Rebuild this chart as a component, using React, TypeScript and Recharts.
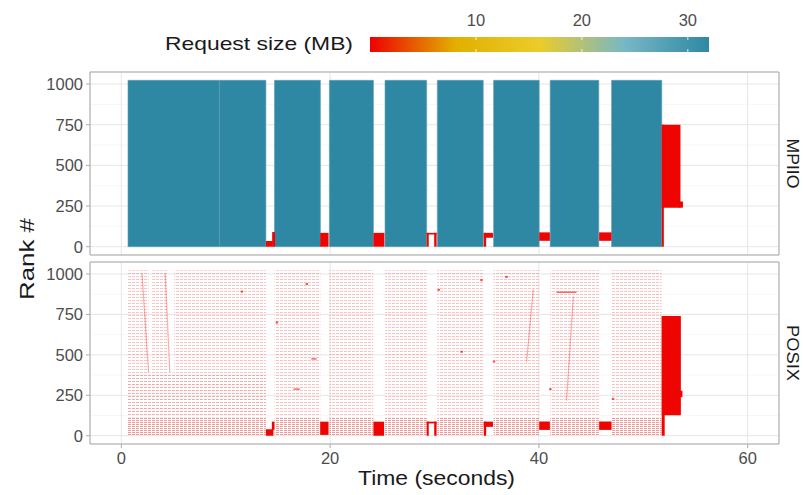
import React from 'react'
import {
  ComposedChart,
  XAxis,
  YAxis,
  CartesianGrid,
  ReferenceArea,
  ReferenceLine,
  Scatter,
} from 'recharts'

const FONT = '"Liberation Sans", Arial, Helvetica, sans-serif'

// axes
const xTicks = [0, 20, 40, 60]
const xMinorTicks = [10, 30, 50]
const yTicks = [0, 250, 500, 750, 1000]
const yMinorTicks = [125, 375, 625, 875]
const X_DOMAIN = [-3, 63]
const Y_DOMAIN = [-51.15, 1074.15]

// colour scale (request size, MB)
const sizeRange = [0, 32]
const legendTicks = [10, 20, 30]
const palette = ['#EE0000', '#E1AF00', '#EBCC2A', '#78B7C5', '#2F88A3']

// MPIIO collective writes, every rank 0..1023
const mpiioStart = [0.64, 9.4, 14.67, 19.93, 25.26, 30.27, 35.66, 41.08, 46.96]
const mpiioEnd = [9.4, 13.85, 19.07, 24.15, 29.25, 34.67, 40.03, 45.74, 51.77]
const mpiioSize = [32, 32, 32, 32, 32, 32, 32, 32, 32]

// small requests: [start s, end s, rank lo, rank hi, MB]
const mpiioSmall = [
  [13.85, 14.5, 0, 35, 0.2],
  [14.45, 14.72, 0, 90, 0.2],
  [19.05, 19.85, 0, 85, 0.2],
  [24.15, 25.2, 0, 85, 0.2],
  [29.25, 29.45, 0, 85, 0.2],
  [29.97, 30.2, 0, 85, 0.2],
  [29.25, 30.2, 75, 85, 0.2],
  [34.72, 35.6, 55, 85, 0.2],
  [34.72, 34.95, 0, 85, 0.2],
  [40.03, 41.05, 36, 88, 0.2],
  [45.77, 46.96, 36, 88, 0.2],
  [51.77, 53.56, 240, 750, 0.2],
  [51.77, 51.97, 0, 750, 0.2],
  [53.45, 53.8, 240, 278, 0.2],
]
const posixSmall = [
  [13.85, 14.57, 0, 40, 0.2],
  [14.42, 14.67, 36, 87, 0.2],
  [19.05, 19.85, 5, 87, 0.2],
  [24.15, 25.17, 0, 87, 0.2],
  [29.25, 29.45, 0, 87, 0.2],
  [29.97, 30.2, 0, 87, 0.2],
  [29.25, 30.2, 76, 87, 0.2],
  [34.72, 35.6, 55, 87, 0.2],
  [34.72, 34.95, 0, 87, 0.2],
  [40.03, 41.05, 36, 88, 0.2],
  [45.77, 46.96, 36, 88, 0.2],
  [51.77, 53.6, 127, 740, 0.2],
  [51.77, 52.05, 0, 740, 0.2],
  [53.45, 53.75, 238, 278, 0.2],
]

// POSIX independent writes: [start s, end s, rank lo, rank hi]
const posixSparse = [
  [0.64, 2.62, 390, 1023],
  [2.95, 4.45, 390, 1023],
  [5.05, 13.85, 390, 1023],
  [14.67, 19.07, 115, 1023],
  [19.93, 24.15, 115, 1023],
  [25.26, 29.25, 115, 1023],
  [30.27, 34.67, 115, 1023],
  [35.66, 40.03, 115, 1023],
  [41.08, 45.74, 115, 1023],
  [46.96, 51.77, 115, 1023],
]
const posixMid = [[0.64, 13.85, 115, 390]]
const posixDense = [
  [0.64, 13.85, 0, 115],
  [14.67, 19.07, 0, 115],
  [19.93, 24.15, 0, 115],
  [25.26, 29.25, 0, 115],
  [30.27, 34.67, 0, 115],
  [35.66, 40.03, 0, 115],
  [41.08, 45.74, 0, 115],
  [46.96, 51.77, 0, 115],
]
// slanted runs of requests: [t0, rank0, t1, rank1]
const posixStreaks = [
  [1.98, 1003, 2.61, 390],
  [4.2, 1003, 4.65, 390],
  [39.46, 905, 38.82, 457],
  [43.3, 861, 42.65, 217],
]
// longer single requests: [start s, end s, rank]
const posixLong = [
  [41.7, 43.6, 887],
  [18.2, 18.7, 475],
  [16.5, 17.1, 288],
]
const posixDots = [
  { t: 17.77, rank: 938 },
  { t: 14.9, rank: 700 },
  { t: 11.55, rank: 891 },
  { t: 32.6, rank: 519 },
  { t: 34.5, rank: 962 },
  { t: 30.4, rank: 902 },
  { t: 35.7, rank: 459 },
  { t: 41.1, rank: 288 },
  { t: 47.1, rank: 228 },
  { t: 36.9, rank: 982 },
]

const hexToRgb = (h: string) => [1, 3, 5].map((i) => parseInt(h.slice(i, i + 2), 16))

const sizeColor = (mb: number) => {
  const f =
    Math.min(1, Math.max(0, (mb - sizeRange[0]) / (sizeRange[1] - sizeRange[0]))) *
    (palette.length - 1)
  const i = Math.min(palette.length - 2, Math.floor(f))
  const k = f - i
  const a = hexToRgb(palette[i])
  const b = hexToRgb(palette[i + 1])
  return `rgb(${a.map((v, j) => Math.round(v + (b[j] - v) * k)).join(',')})`
}

const RED = sizeColor(0.2)
const legendX = (v: number) => 370 + ((v - sizeRange[0]) / (sizeRange[1] - sizeRange[0])) * 339

const tickStyle = { fill: '#4D4D4D', fontSize: 16.5, fontFamily: FONT }

const areas = (blocks: number[][], key: string, fill?: string) =>
  blocks.map(([t0, t1, r0, r1, mb], i) => (
    <ReferenceArea
      key={`${key}-${i}`}
      x1={t0}
      x2={t1}
      y1={r0}
      y2={r1}
      fill={fill || sizeColor(mb)}
      fillOpacity={1}
      stroke='none'
      ifOverflow='visible'
    />
  ))

const gridAndAxes = (showX: boolean) => [
  <XAxis key='xm' xAxisId='minor' type='number' domain={X_DOMAIN} ticks={xMinorTicks} hide allowDataOverflow />,
  <YAxis key='ym' yAxisId='minor' type='number' domain={Y_DOMAIN} ticks={yMinorTicks} hide allowDataOverflow />,
  <XAxis
    key='x'
    type='number'
    dataKey='t'
    domain={X_DOMAIN}
    ticks={xTicks}
    interval={0}
    hide={!showX}
    height={51}
    allowDataOverflow
    axisLine={false}
    tickSize={4}
    tickMargin={4}
    tickLine={{ stroke: '#ABABAB' }}
    tick={tickStyle}
  />,
  <YAxis
    key='y'
    type='number'
    dataKey='rank'
    domain={Y_DOMAIN}
    ticks={yTicks}
    interval={0}
    width={90}
    allowDataOverflow
    axisLine={false}
    tickSize={4}
    tickMargin={3}
    tickLine={{ stroke: '#ABABAB' }}
    tick={tickStyle}
  />,
  <CartesianGrid key='gm' xAxisId='minor' yAxisId='minor' stroke='#F3F3F3' strokeWidth={0.7} />,
  <CartesianGrid key='g' stroke='#E6E6E6' strokeWidth={1} />,
]

const border = (
  <ReferenceArea
    x1={X_DOMAIN[0]}
    x2={X_DOMAIN[1]}
    y1={Y_DOMAIN[0]}
    y2={Y_DOMAIN[1]}
    fill='none'
    stroke='#ABABAB'
    strokeWidth={1}
    ifOverflow='visible'
  />
)

export default function App() {
  return (
    <div style={{ position: 'absolute', left: 0, top: 0, width: 803, height: 495, background: '#fff' }}>
      <svg width={803} height={70} style={{ position: 'absolute', left: 0, top: 0 }}>
        <defs>
          <linearGradient id='sizeGrad' x1='0' x2='1' y1='0' y2='0'>
            {palette.map((c, i) => (
              <stop key={c} offset={i / (palette.length - 1)} stopColor={c} />
            ))}
          </linearGradient>
          <pattern id='posixSparse' width={4} height={3} patternUnits='userSpaceOnUse'>
            <rect x={0} y={0} width={3} height={1} fill={RED} fillOpacity={0.24} />
          </pattern>
          <pattern id='posixMid' width={4} height={3} patternUnits='userSpaceOnUse'>
            <rect x={0} y={0} width={3} height={1} fill={RED} fillOpacity={0.34} />
          </pattern>
          <pattern id='posixDense' width={4} height={2} patternUnits='userSpaceOnUse'>
            <rect x={0} y={0} width={3} height={1} fill={RED} fillOpacity={0.42} />
          </pattern>
        </defs>
        <text x={165} y={50} fontSize={19} fontFamily={FONT} fill='#1A1A1A' textLength={188} lengthAdjust='spacingAndGlyphs'>
          Request size (MB)
        </text>
        <rect x={370} y={37} width={339} height={15} fill='url(#sizeGrad)' />
        {legendTicks.map((v) => (
          <g key={v}>
            <line x1={legendX(v)} x2={legendX(v)} y1={37} y2={40} stroke='#fff' strokeWidth={0.8} />
            <line x1={legendX(v)} x2={legendX(v)} y1={49} y2={52} stroke='#fff' strokeWidth={0.8} />
            <text x={legendX(v)} y={26} textAnchor='middle' fontSize={16.5} fontFamily={FONT} fill='#4D4D4D'>
              {v}
            </text>
          </g>
        ))}
      </svg>

      <div style={{ position: 'absolute', left: 0, top: 0 }}>
        <ComposedChart width={803} height={262} margin={{ top: 72, right: 24, bottom: 7, left: 0 }}>
          {gridAndAxes(false)}
          {mpiioStart.map((t0, i) => (
            <ReferenceArea
              key={`mp-${i}`}
              x1={t0}
              x2={mpiioEnd[i]}
              y1={0}
              y2={1023}
              fill={sizeColor(mpiioSize[i])}
              fillOpacity={1}
              stroke='#5C9FB6'
              strokeWidth={0.6}
              ifOverflow='visible'
            />
          ))}
          {areas(mpiioSmall, 'ms')}
          {border}
        </ComposedChart>
      </div>

      <div style={{ position: 'absolute', left: 0, top: 0 }}>
        <ComposedChart width={803} height={495} margin={{ top: 262, right: 24, bottom: 0, left: 0 }}>
          {gridAndAxes(true)}
          {areas(posixSparse, 'ps', 'url(#posixSparse)')}
          {areas(posixMid, 'pm', 'url(#posixMid)')}
          {areas(posixDense, 'pd', 'url(#posixDense)')}
          {posixStreaks.map(([t0, r0, t1, r1], i) => (
            <ReferenceLine
              key={`st-${i}`}
              segment={[{ x: t0, y: r0 }, { x: t1, y: r1 }]}
              stroke={RED}
              strokeOpacity={0.32}
              strokeWidth={1.2}
              ifOverflow='visible'
            />
          ))}
          {posixLong.map(([t0, t1, r], i) => (
            <ReferenceLine
              key={`lg-${i}`}
              segment={[{ x: t0, y: r }, { x: t1, y: r }]}
              stroke={RED}
              strokeOpacity={0.6}
              strokeWidth={1.5}
              ifOverflow='visible'
            />
          ))}
          <Scatter
            data={posixDots}
            dataKey='rank'
            isAnimationActive={false}
            shape={(p: any) => (
              <rect x={p.cx - 1.2} y={p.cy - 1} width={2.4} height={2} fill={RED} fillOpacity={0.7} />
            )}
          />
          {areas(posixSmall, 'pss')}
          {border}
        </ComposedChart>
      </div>

      <svg width={803} height={495} style={{ position: 'absolute', left: 0, top: 0, pointerEvents: 'none' }}>
        <text x={436.5} y={485} textAnchor='middle' fontSize={20} fontFamily={FONT} fill='#1A1A1A' textLength={157} lengthAdjust='spacingAndGlyphs'>
          Time (seconds)
        </text>
        <text
          x={0}
          y={0}
          transform='translate(34 259) rotate(-90)'
          textAnchor='middle'
          fontSize={20.5}
          fontFamily={FONT}
          fill='#1A1A1A'
          textLength={82}
          lengthAdjust='spacingAndGlyphs'
        >
          Rank #
        </text>
        <text x={0} y={0} transform='translate(787 163.5) rotate(90)' textAnchor='middle' fontSize={17} fontFamily={FONT} fill='#1A1A1A' textLength={50} lengthAdjust='spacingAndGlyphs'>
          MPIIO
        </text>
        <text x={0} y={0} transform='translate(787 353) rotate(90)' textAnchor='middle' fontSize={17} fontFamily={FONT} fill='#1A1A1A' textLength={56} lengthAdjust='spacingAndGlyphs'>
          POSIX
        </text>
      </svg>
    </div>
  )
}
